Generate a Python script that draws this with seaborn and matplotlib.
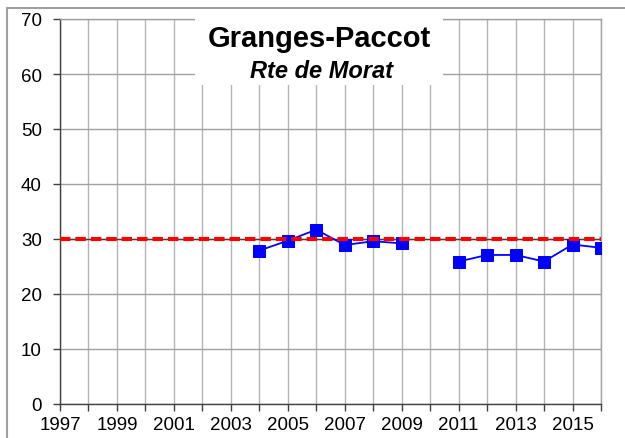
import numpy as np
import pandas as pd
import matplotlib
matplotlib.use("Agg")
import matplotlib.pyplot as plt
import seaborn as sns
from matplotlib.patches import Rectangle
from matplotlib.lines import Line2D

years = [2004, 2005, 2006, 2007, 2008, 2009, 2011, 2012, 2013, 2014, 2015, 2016]
values = [27.9, 29.7, 31.7, 28.9, 29.6, 29.2, 25.9, 27.1, 27.1, 25.9, 29.0, 28.4]
segments = [1, 1, 1, 1, 1, 1, 2, 2, 2, 2, 2, 2]
limit_value = 30
title = "Granges-Paccot"
subtitle = "Rte de Morat"
x_min, x_max = 1997, 2016
y_ticks = [0, 10, 20, 30, 40, 50, 60, 70]

sns.set_style("white")
plt.rcParams['font.family'] = ['Liberation Sans', 'DejaVu Sans']
plt.rcParams['text.color'] = 'black'

df = pd.DataFrame({"year": years, "value": values, "seg": segments})

fig = plt.figure(figsize=(6.25, 4.39), dpi=100)
ax = fig.add_axes([60/625, 1-405/439, (601-60)/625, (405-20)/439])

# grid
for yr in range(x_min, x_max + 1):
    ax.axvline(yr, color="#b4b4b4", lw=1.0, zorder=0)
for yt in y_ticks:
    ax.axhline(yt, color="#a0a0a0", lw=1.0, zorder=0)
ax.axhline(limit_value, color="#404040", lw=1.0, zorder=1)

sns.lineplot(data=df, x="year", y="value", units="seg", estimator=None,
             color="#0000ff", lw=1.3, marker="s", markersize=8,
             markeredgecolor="#0000ff", ax=ax, zorder=3)

ax.axhline(limit_value, color="#ff0000", lw=3.0, dashes=(2.5, 1.2), zorder=4)

ax.set_xlim(x_min, x_max)
ax.set_ylim(0, 70)
ax.set_xticks(list(range(x_min, x_max + 1)))
ax.set_xticklabels([str(y) if (y - x_min) % 2 == 0 else "" for y in range(x_min, x_max + 1)])
ax.set_yticks(y_ticks)
ax.set_yticklabels([str(v) for v in y_ticks])
ax.tick_params(axis="both", direction="out", length=5, width=1, color="#404040",
               labelsize=13.5, labelcolor="black", bottom=True, left=True)
ax.tick_params(axis="x", pad=4)
ax.tick_params(axis="y", pad=8)
ax.set_xlabel("")
ax.set_ylabel("")
for side in ["top", "right"]:
    ax.spines[side].set_color("#a0a0a0")
    ax.spines[side].set_linewidth(1.0)
for side in ["left", "bottom"]:
    ax.spines[side].set_color("#404040")
    ax.spines[side].set_linewidth(1.0)

# title box
x0 = (195 - 60) / 541
x1 = (443 - 60) / 541
yb = (405 - 86) / 385
yt_ = (405 - 11) / 385
ax.add_patch(Rectangle((x0, yb), x1 - x0, yt_ - yb, transform=ax.transAxes,
                       facecolor="white", edgecolor="none", zorder=5, clip_on=False))
ax.text((319 - 60) / 541, (405 - 47) / 385, title, transform=ax.transAxes, color="black",
        ha="center", va="baseline", fontsize=21, fontweight="bold", zorder=6)
ax.text((321 - 60) / 541, (405 - 78) / 385, subtitle, transform=ax.transAxes, color="black",
        ha="center", va="baseline", fontsize=17, fontweight="bold", fontstyle="italic", zorder=6)

# figure border (top and left)
fig.add_artist(Line2D([7/625, 1], [1 - 9/439, 1 - 9/439], transform=fig.transFigure,
                      color="#a0a0a0", lw=1.5))
fig.add_artist(Line2D([7/625, 7/625], [0, 1 - 9/439], transform=fig.transFigure,
                      color="#a0a0a0", lw=1.5))

fig.savefig("out.png", dpi=100)
